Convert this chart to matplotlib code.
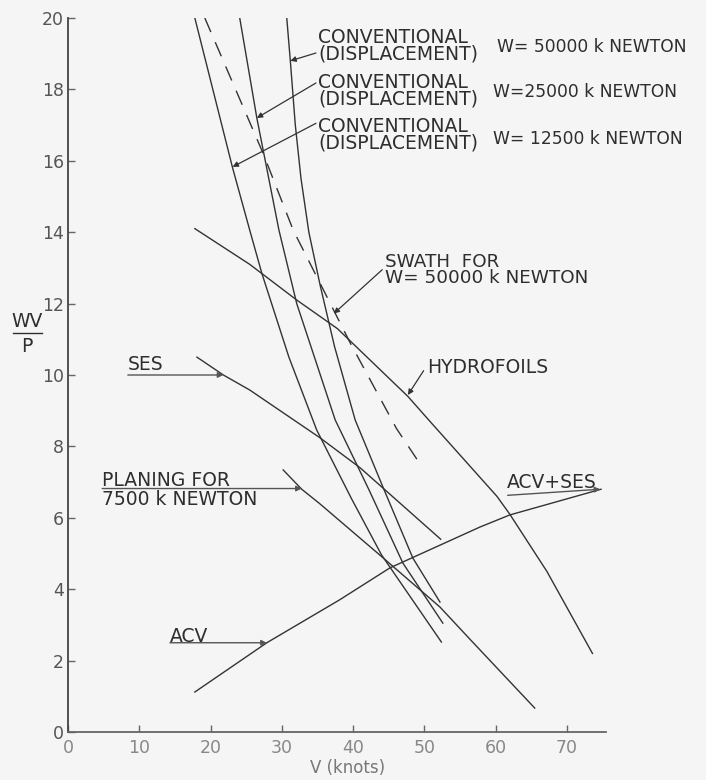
import matplotlib
matplotlib.use("Agg")
import matplotlib.pyplot as plt

# ---- data (V in knots, WV/P) ----
conv12500_v = [17.8, 23.1, 25.5, 27.2, 31.0, 34.9, 39.8, 44.0, 52.4]
conv12500_y = [20.0, 15.8, 14.06, 12.85, 10.5, 8.46, 6.53, 4.96, 2.52]

conv25000_v = [24.1, 26.5, 29.6, 32.1, 37.5, 42.2, 47.0, 52.6]
conv25000_y = [20.0, 17.2, 14.06, 12.0, 8.74, 6.8, 4.73, 3.05]

conv50000_v = [30.7, 31.2, 31.9, 32.7, 33.8, 35.4, 37.4, 40.3, 44.2, 48.4, 52.2]
conv50000_y = [20.0, 18.8, 17.0, 15.5, 14.0, 12.5, 10.8, 8.74, 6.86, 4.87, 3.64]

swath_v = [19.2, 27.4, 31.6, 39.6, 46.1, 49.1]
swath_y = [20.0, 16.2, 14.06, 10.9, 8.5, 7.6]

hydro_v = [17.8, 25.5, 32.1, 37.8, 47.7, 50.8, 60.2, 62.0, 67.2, 73.6]
hydro_y = [14.1, 13.1, 12.1, 11.3, 9.4, 8.7, 6.6, 6.1, 4.5, 2.2]

ses_v = [18.1, 21.8, 25.5, 35.3, 41.0, 52.3]
ses_y = [10.5, 10.0, 9.58, 8.25, 7.4, 5.4]

planing_v = [30.2, 32.8, 35.3, 43.8, 52.2, 56.4, 65.5]
planing_y = [7.34, 6.8, 6.4, 4.95, 3.5, 2.6, 0.67]

acv_v = [17.8, 27.9, 38.1, 45.2, 57.8, 62.0, 74.8]
acv_y = [1.12, 2.5, 3.7, 4.6, 5.74, 6.08, 6.8]

x_ticks = [0, 10, 20, 30, 40, 50, 60, 70]
y_ticks = [0, 2, 4, 6, 8, 10, 12, 14, 16, 18, 20]

LC = "#333333"
TC = "#2e2e2e"
FS = 13.5
FSW = 12.3

fig = plt.figure(figsize=(7.06, 7.80), dpi=100, facecolor="#f5f5f5")
ax = fig.add_axes([68/706, 48/780, 538/706, 714/780])
ax.set_facecolor("#f5f5f5")
ax.set_xlim(0, 75.5)
ax.set_ylim(0, 20)
for s in ("top", "right"):
    ax.spines[s].set_visible(False)
ax.spines["left"].set_color("#444444")
ax.spines["left"].set_linewidth(1.3)
ax.spines["bottom"].set_color("#666666")
ax.spines["bottom"].set_linewidth(1.3)
ax.set_xticks(x_ticks)
ax.set_yticks(y_ticks)
ax.tick_params(axis="both", direction="in", length=5, width=1, color="#666666")
ax.tick_params(axis="y", labelsize=12.5, labelcolor="#555555", pad=3)
ax.tick_params(axis="x", labelsize=12.5, labelcolor="#888888", pad=5)

lw = 1.0
ax.plot(conv12500_v, conv12500_y, color=LC, lw=lw)
ax.plot(conv25000_v, conv25000_y, color=LC, lw=lw)
ax.plot(conv50000_v, conv50000_y, color=LC, lw=lw)
ax.plot(swath_v, swath_y, color=LC, lw=lw, dashes=[11, 8])
ax.plot(hydro_v, hydro_y, color=LC, lw=lw)
ax.plot(ses_v, ses_y, color=LC, lw=lw)
ax.plot(planing_v, planing_y, color=LC, lw=lw)
ax.plot(acv_v, acv_y, color=LC, lw=lw)

arrow = dict(arrowstyle="-|>", color=LC, lw=0.9, mutation_scale=8, shrinkA=0, shrinkB=0)
uline = dict(arrowstyle="-|>", color="#555555", lw=1.0, mutation_scale=8, shrinkA=0, shrinkB=0)

def txt(x, y, s, fs=FS, **kw):
    ax.text(x, y, s, fontsize=fs, color=TC, ha="left", va="center", clip_on=False, **kw)

conv_label = "CONVENTIONAL\n(DISPLACEMENT)"
# Conventional labels
txt(35.1, 19.22, conv_label, linespacing=0.82)
txt(60.2, 19.18, "W= 50000 k NEWTON", fs=FSW)
ax.annotate("", xy=(31.2, 18.8), xytext=(34.8, 19.02), arrowprops=arrow, annotation_clip=False)

txt(35.1, 17.97, conv_label, linespacing=0.82)
txt(59.7, 17.93, "W=25000 k NEWTON", fs=FSW)
ax.annotate("", xy=(26.5, 17.2), xytext=(34.8, 18.18), arrowprops=arrow, annotation_clip=False)

txt(35.1, 16.74, conv_label, linespacing=0.82)
txt(59.7, 16.6, "W= 12500 k NEWTON", fs=FSW)
ax.annotate("", xy=(23.1, 15.83), xytext=(34.8, 17.05), arrowprops=arrow, annotation_clip=False)

# Swath
txt(44.5, 12.93, "SWATH  FOR\nW= 50000 k NEWTON", fs=13.2, linespacing=0.85)
ax.annotate("", xy=(37.3, 11.72), xytext=(44.1, 12.95), arrowprops=arrow, annotation_clip=False)

# Hydrofoils
txt(50.4, 10.2, "HYDROFOILS")
ax.annotate("", xy=(47.7, 9.44), xytext=(49.9, 10.12), arrowprops=arrow, annotation_clip=False)

# SES
txt(8.4, 10.3, "SES")
ax.annotate("", xy=(21.8, 10.0), xytext=(8.4, 10.0), arrowprops=uline, annotation_clip=False)

# Planing
txt(4.8, 6.78, "PLANING FOR\n7500 k NEWTON", linespacing=0.95)
ax.annotate("", xy=(32.8, 6.82), xytext=(4.8, 6.82), arrowprops=uline, annotation_clip=False)

# ACV
txt(14.3, 2.68, "ACV")
ax.annotate("", xy=(27.9, 2.5), xytext=(14.3, 2.5), arrowprops=uline, annotation_clip=False)

# ACV+SES
txt(61.6, 6.98, "ACV+SES")
ax.annotate("", xy=(74.7, 6.8), xytext=(61.7, 6.63), arrowprops=uline, annotation_clip=False)

# Axis labels
ax.text(-5.75, 11.5, "WV", fontsize=FS, color=TC, ha="center", va="center", clip_on=False)
ax.plot([-7.7, -3.65], [11.18, 11.18], color=TC, lw=1.0, clip_on=False)
ax.text(-5.75, 10.8, "P", fontsize=FS, color=TC, ha="center", va="center", clip_on=False)
ax.text(39.2, -1.02, "V (knots)", fontsize=12, color="#777777", ha="center", va="center", clip_on=False)

fig.savefig("out.png", dpi=100, facecolor=fig.get_facecolor())
